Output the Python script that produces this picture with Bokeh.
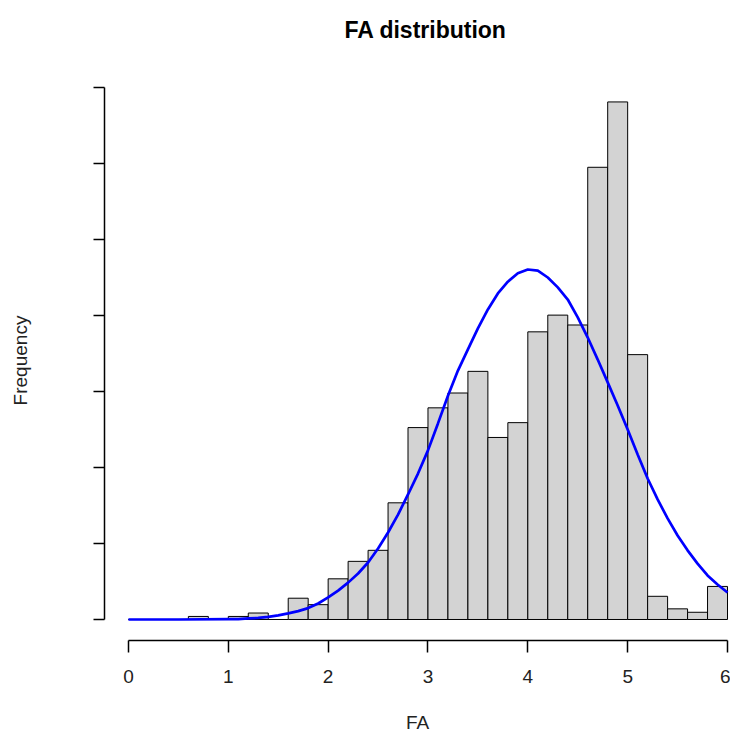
from bokeh.plotting import figure
from bokeh.models import Range1d, FixedTicker, Title
from bokeh.embed import file_html
from bokeh.resources import INLINE

# ---- data ----
bin_left = [0.0, 0.2, 0.4, 0.6, 0.8, 1.0, 1.2, 1.4, 1.6, 1.8,
            2.0, 2.2, 2.4, 2.6, 2.8, 3.0, 3.2, 3.4, 3.6, 3.8,
            4.0, 4.2, 4.4, 4.6, 4.8, 5.0, 5.2, 5.4, 5.6, 5.8]
bin_right = [0.2, 0.4, 0.6, 0.8, 1.0, 1.2, 1.4, 1.6, 1.8, 2.0,
             2.2, 2.4, 2.6, 2.8, 3.0, 3.2, 3.4, 3.6, 3.8, 4.0,
             4.2, 4.4, 4.6, 4.8, 5.0, 5.2, 5.4, 5.6, 5.8, 6.0]
counts = [0, 0, 0, 0.8, 0, 0.8, 1.7, 0, 5.6, 3.9,
          10.7, 15.3, 18.2, 30.7, 50.5, 55.7, 59.6, 65.3, 47.9, 51.8,
          75.7, 80.1, 77.5, 119.0, 136.2, 69.7, 6.1, 2.8, 1.9, 8.7]

curve_x = [0.0, 0.5, 1.0, 1.1, 1.2, 1.3, 1.4, 1.5, 1.6, 1.7, 1.8, 1.9,
           2.0, 2.1, 2.2, 2.3, 2.4, 2.5, 2.6, 2.7, 2.8, 2.9,
           3.0, 3.1, 3.2, 3.3, 3.4, 3.5, 3.6, 3.7, 3.8, 3.9,
           4.0, 4.1, 4.2, 4.3, 4.4, 4.5, 4.6, 4.7, 4.8, 4.9,
           5.0, 5.1, 5.2, 5.3, 5.4, 5.5, 5.6, 5.7, 5.8, 5.9, 6.0]
curve_y = [0.0, 0.0, 0.1, 0.1, 0.3, 0.4, 0.7, 1.1, 1.6, 2.2, 3.0, 4.2,
           5.8, 7.6, 9.7, 12.1, 15.0, 18.7, 22.9, 27.6, 32.9, 38.4,
           44.5, 51.6, 58.9, 65.5, 71.1, 76.6, 81.6, 85.8, 88.9, 91.1,
           92.1, 91.8, 90.0, 87.4, 84.2, 79.5, 74.2, 68.4, 62.4, 56.3,
           50.0, 43.4, 37.1, 31.6, 26.6, 22.1, 18.2, 14.7, 11.6, 9.2, 7.1]

x_ticks = [0, 1, 2, 3, 4, 5, 6]
y_ticks = [0, 20, 40, 60, 80, 100, 120, 140]

FONT = "Liberation Sans"

p = figure(width=730, height=742, output_backend="svg", toolbar_location=None,
           x_range=Range1d(-0.24, 6.03), y_range=Range1d(-5.53, 141.84),
           min_border_left=104, min_border_right=0,
           min_border_top=80, min_border_bottom=102)

p.outline_line_color = None
p.xgrid.grid_line_color = None
p.ygrid.grid_line_color = None
p.background_fill_color = "white"
p.border_fill_color = "white"

p.quad(left=bin_left, right=bin_right, bottom=0, top=counts,
       fill_color="#D3D3D3", line_color="black", line_width=1)
p.line(curve_x, curve_y, line_color="#0000FF", line_width=2.7)

# spacer between the frame and the title, then the title itself
p.add_layout(Title(text=" ", text_font_size="1px", standoff=35), "above")
p.add_layout(Title(text="FA distribution", align="left", offset=240,
                   text_font=FONT, text_font_size="23px", text_font_style="bold",
                   text_color="black", standoff=0), "above")

# x axis
xa = p.xaxis[0]
xa.ticker = FixedTicker(ticks=x_ticks)
xa.bounds = (0, 6)
xa.minor_tick_line_color = None
xa.major_tick_in = 0
xa.major_tick_out = 12
xa.major_label_standoff = 17
xa.major_label_text_font = FONT
xa.major_label_text_font_size = "19px"
xa.major_label_text_color = "#222222"
xa.axis_label = "FA"
xa.axis_label_text_font = FONT
xa.axis_label_text_font_size = "19px"
xa.axis_label_text_font_style = "normal"
xa.axis_label_text_color = "#222222"
xa.axis_label_standoff = 26
xa.axis_line_width = 1.5
xa.major_tick_line_width = 1.5

# y axis
ya = p.yaxis[0]
ya.ticker = FixedTicker(ticks=y_ticks)
ya.bounds = (0, 140)
ya.minor_tick_line_color = None
ya.major_tick_in = 0
ya.major_tick_out = 11
ya.major_label_overrides = {t: "" for t in y_ticks}
ya.major_label_standoff = 0
ya.axis_label = "Frequency"
ya.axis_label_text_font = FONT
ya.axis_label_text_font_size = "19px"
ya.axis_label_text_font_style = "normal"
ya.axis_label_text_color = "#222222"
ya.axis_label_standoff = 63
ya.axis_line_width = 1.5
ya.major_tick_line_width = 1.5

open("out.html", "w").write(file_html(p, INLINE))
